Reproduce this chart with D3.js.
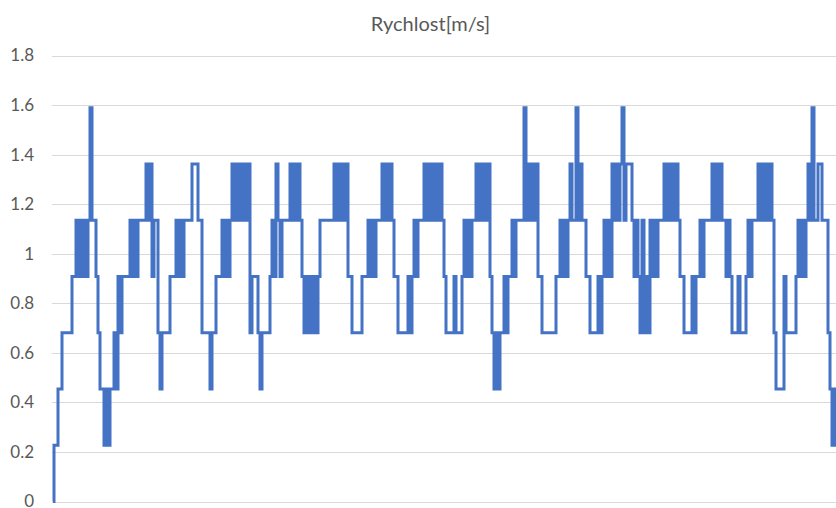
<!DOCTYPE html>
<html>
<head>
<meta charset="utf-8">
<script src="https://cdn.jsdelivr.net/npm/d3@7"></script>
<style>
  html, body { margin: 0; padding: 0; background: #ffffff; }
  svg { display: block; }
</style>
</head>
<body>
<svg id="chart" width="836" height="508"></svg>
<script>
// ---- data ----
const chartTitle = "Rychlost[m/s]";
const yTickValues = [0, 0.2, 0.4, 0.6, 0.8, 1.0, 1.2, 1.4, 1.6, 1.8];
const yTickLabels = ["0", "0.2", "0.4", "0.6", "0.8", "1", "1.2", "1.4", "1.6", "1.8"];
// speed samples [m/s] (quantised sensor steps)
const speed = [
  0, 0.227, 0.227, 0.454, 0.454, 0.681, 0.681, 0.681, 0.681, 0.681, 0.908, 0.908,
  1.135, 0.908, 1.135, 0.908, 1.135, 0.908, 1.135, 1.589, 1.135, 1.135, 0.908, 0.681,
  0.454, 0.454, 0.227, 0.454, 0.227, 0.454, 0.454, 0.681, 0.454, 0.908, 0.681,
  0.908, 0.908, 0.908, 0.908, 1.135, 0.908, 1.135, 0.908, 1.135, 1.135, 1.135, 1.135,
  1.362, 1.135, 1.362, 0.908, 1.135, 1.135,
  0.681, 0.454, 0.681, 0.681, 0.681, 0.681, 0.908, 0.908, 0.908,
  1.135, 0.908, 1.135, 0.908, 1.135, 1.135, 1.135, 1.135, 1.362, 1.362, 1.362, 1.135, 1.135,
  0.681, 0.681, 0.681, 0.681, 0.454, 0.681, 0.681, 0.908, 0.908, 0.908,
  1.135, 0.908, 1.135, 0.908, 1.135,
  1.362, 1.135, 1.362, 1.135, 1.362, 1.135, 1.362, 1.135, 1.362,
  0.681, 0.908, 0.908, 0.908, 0.681, 0.454, 0.681, 0.681, 0.681, 0.681, 0.908,
  1.135, 0.908, 1.362, 1.135, 0.908, 1.135, 1.135, 1.135, 1.135,
  1.362, 1.135, 1.362, 1.135, 1.362, 1.135, 0.908,
  0.681, 0.908, 0.681, 0.908, 0.681, 0.908, 0.681, 0.908,
  1.135, 1.135, 1.135, 1.135, 1.135, 1.135, 1.135,
  1.362, 1.135, 1.362, 1.135, 1.362, 1.135, 1.362, 0.908, 0.908,
  0.681, 0.681, 0.681, 0.681, 0.681, 0.908, 0.908, 0.908,
  1.135, 0.908, 1.135, 0.908, 1.135, 1.135, 1.135,
  1.362, 1.135, 1.362, 1.135, 1.362, 1.135, 0.908, 0.908,
  0.681, 0.681, 0.681, 0.681, 0.681, 0.908, 0.681, 0.908,
  1.135, 0.908, 1.135, 1.135, 1.135,
  1.362, 1.135, 1.362, 1.135, 1.362, 1.135, 1.362, 1.135, 1.362, 1.135, 0.908,
  0.681, 0.681, 0.681, 0.681, 0.908, 0.681, 0.681, 0.681, 0.908,
  1.135, 0.908, 1.135, 0.908, 1.135, 1.135,
  1.362, 1.135, 1.362, 1.135, 1.362, 1.135, 1.362, 0.908,
  0.681, 0.454, 0.681, 0.454, 0.681, 0.681, 0.908, 0.681, 0.908, 0.908,
  1.135, 0.908, 1.135, 1.135, 1.135, 1.135, 1.589,
  1.135, 1.362, 1.135, 1.362, 1.135, 1.362, 0.908, 0.908,
  0.681, 0.681, 0.681, 0.681, 0.681, 0.681, 0.681, 0.908, 0.908,
  1.135, 0.908, 1.135, 0.908, 1.135, 1.362, 1.135, 1.135, 1.589,
  1.135, 1.362, 1.135, 1.135, 0.908, 0.908,
  0.681, 0.681, 0.681, 0.681, 0.908, 0.681, 0.908,
  1.135, 0.908, 1.135, 0.908, 1.362, 1.135, 1.362, 1.135, 1.362, 1.589,
  1.135, 1.362, 1.362, 1.362,
  1.135, 0.908, 1.135, 0.908, 0.681, 1.135, 0.681, 0.908, 0.681,
  1.135, 0.908, 1.135, 0.908, 1.135, 1.135, 1.135,
  1.362, 1.135, 1.362, 1.135, 1.362, 1.135, 1.362, 1.135, 0.908, 0.908,
  0.681, 0.681, 0.681, 0.681, 0.908, 0.681, 0.908, 0.908,
  1.135, 0.908, 1.135, 1.135, 1.135, 1.135,
  1.362, 1.135, 1.362, 1.135, 1.362, 1.135, 1.135, 0.908, 1.135, 0.908,
  0.681, 0.681, 0.681, 0.908, 0.681, 0.681, 0.681, 0.908, 1.135, 0.908,
  1.135, 1.135, 1.135,
  1.362, 1.135, 1.362, 1.135, 1.362, 1.135, 1.362, 1.135,
  0.681, 0.454, 0.454, 0.454, 0.454, 0.908,
  0.681, 0.681, 0.681, 0.681, 0.681,
  0.908, 1.135, 0.908, 1.135, 0.908, 1.135, 1.362, 1.135, 1.589, 1.135, 1.135,
  1.362, 1.362, 1.135, 1.135, 1.135, 0.681, 0.454, 0.227, 0.454, 0.227
];

// ---- layout ----
const W = 836, H = 508;
const plot = { left: 52, top: 55.5, bottom: 501.5, right: 836, step: 2 };

const svg = d3.select("#chart");

const x = d3.scaleLinear()
  .domain([0, speed.length - 1])
  .range([plot.left + 1, plot.left + 1 + plot.step * (speed.length - 1)]);

const y = d3.scaleLinear()
  .domain([0, 1.8])
  .range([plot.bottom, plot.top]);

// title
svg.append("text")
  .attr("x", 430.5)
  .attr("y", 31)
  .attr("text-anchor", "middle")
  .attr("font-family", "Lato, 'Open Sans', sans-serif")
  .attr("font-size", 20)
  .attr("fill", "#595959")
  .text(chartTitle);

// gridlines + y axis labels via d3 axis
const yAxis = d3.axisLeft(y)
  .tickValues(yTickValues)
  .tickFormat((d, i) => yTickLabels[i])
  .tickSize(-(plot.right - plot.left))
  .tickPadding(18);

const gAxis = svg.append("g")
  .attr("transform", `translate(${plot.left},0)`)
  .call(yAxis);

gAxis.select(".domain").remove();
gAxis.selectAll(".tick line")
  .attr("stroke", "#d9d9d9")
  .attr("stroke-width", 1)
  .attr("shape-rendering", "crispEdges");
gAxis.selectAll(".tick text")
  .attr("font-family", "Lato, 'Open Sans', sans-serif")
  .attr("font-size", 17)
  .attr("fill", "#595959");

// line (dense samples -> vertical transitions)
const line = d3.line()
  .x((d, i) => x(i))
  .y(d => y(d))
  .curve(d3.curveStep);

svg.append("path")
  .datum(speed)
  .attr("fill", "none")
  .attr("stroke", "#4472C4")
  .attr("stroke-width", 3)
  .attr("stroke-linejoin", "miter")
  .attr("d", line);
</script>
</body>
</html>
